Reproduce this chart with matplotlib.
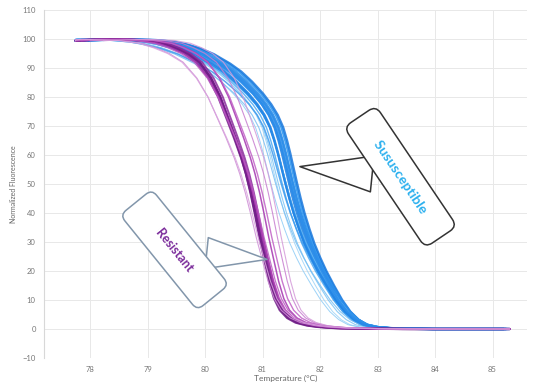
import numpy as np
import matplotlib
matplotlib.use('Agg')
import matplotlib.pyplot as plt

plt.rcParams['font.family'] = ['Lato', 'DejaVu Sans']

### Data ######################################################################

# typical resistant melt curve (dark core of the purple bundle)
temps_res = [77.7, 78.0, 78.5, 79.0, 79.3, 79.5, 79.7, 79.9, 80.1, 80.26, 80.4,
             80.52, 80.64, 80.72, 80.8, 80.88, 80.96, 81.05, 81.13, 81.22,
             81.32, 81.45, 81.6, 81.8, 82.0, 82.3, 82.8, 83.5, 85.3]
fluor_res = [99.4, 99.7, 99.9, 99.5, 98.5, 97.0, 95.0, 92.0, 86.5, 80.0, 72.5,
             66.0, 59.0, 53.5, 47.0, 39.5, 31.5, 23.5, 16.5, 10.5,
             6.5, 3.8, 2.2, 1.2, 0.7, 0.3, 0.1, 0.0, 0.0]

# typical susceptible melt curve (core of the blue bundle)
temps_sus = [77.7, 78.0, 78.5, 79.0, 79.3, 79.5, 79.75, 80.0, 80.3, 80.5, 80.7,
             80.9, 81.05, 81.17, 81.27, 81.34, 81.4, 81.46, 81.52, 81.59,
             81.66, 81.75, 81.84, 81.95, 82.06, 82.2, 82.35, 82.5, 82.65,
             82.8, 83.0, 83.3, 84.0, 85.3]
fluor_sus = [99.4, 99.7, 99.9, 99.6, 99.0, 98.2, 96.8, 94.8, 91.5, 88.8, 85.3,
             81.2, 77.5, 73.8, 69.5, 65.0, 60.5, 55.5, 50.5, 45.0,
             40.0, 34.5, 29.5, 24.5, 20.0, 15.0, 10.0, 6.0, 3.2,
             1.5, 0.6, 0.2, 0.0, 0.0]

# per-sample offset of each curve (deg C) and width of its melt transition
res_shift   = [0.0, 0.03, -0.02, 0.05, 0.02, 0.08, 0.15, 0.22, 0.0, 0.3, 0.35, 0.12, 0.05]
res_stretch = [1.0, 1.02, 0.98, 1.0, 1.05, 1.1, 1.0, 1.05, 1.2, 1.0, 0.95, 1.15, 1.25]
sus_shift   = [-0.06, -0.01, 0.02, -0.1, 0.0, -0.04, 0.04, -0.12, -0.21, -0.28, -0.34, -0.02, -0.18, -0.06, 0.02, -0.08, -0.03]
sus_stretch = [1.0, 0.98, 0.96, 1.03, 1.05, 1.1, 0.95, 1.08, 1.05, 1.0, 1.05, 1.12, 1.15, 1.18, 1.02, 1.06, 1.0]

# bottom of the melt where the curves of one group come together
res_pivot = 81.3
sus_pivot = 82.3

t_min, t_max = 77.75, 85.3

### Styles #####################################################################

res_colors = ['#6b1a80', '#7a2090', '#6f1d86', '#8a2a9c', '#75208a',
              '#b03ab5', '#a535b0', '#c060c6', '#cf8fd6', '#c77dd0', '#d49ad9',
              '#b85cc0', '#d9a3de']
res_lw = [1.6, 1.6, 1.6, 1.4, 1.5, 1.1, 1.1, 1.0, 0.8, 0.8, 0.8, 0.9, 0.8]
sus_colors = ['#1a7be0', '#1f86e8', '#2390ee', '#1c80e4', '#2a8eec', '#3a9cf0',
              '#1877dc', '#4aa8f2', '#7cc4f4', '#9cd3f7', '#8ccbf6', '#5fb4f3',
              '#78bff3', '#3d9bee', '#2d8fea', '#1f84e6', '#2b8ce9']
sus_lw = [1.8, 1.8, 1.8, 1.6, 1.6, 1.2, 1.6, 1.0, 0.8, 0.7, 0.7, 0.9, 0.8, 1.1, 1.3, 1.6, 1.6]

### Plot #######################################################################

fig = plt.figure(figsize=(5.34, 3.91), dpi=100)
ax = fig.add_axes([0.0824, 0.0844, 0.9045, 0.890])

def plot_group(temps, fluor, pivot, shifts, stretches, colors, widths):
    t = np.array(temps)
    for s, k, c, lw in zip(shifts, stretches, colors, widths):
        x = np.clip(pivot + (t - pivot) * k + s, t_min, t_max)
        ax.plot(x, fluor, color=c, lw=lw, alpha=0.85, solid_capstyle='round')

plot_group(temps_sus, fluor_sus, sus_pivot, sus_shift, sus_stretch, sus_colors, sus_lw)
plot_group(temps_res, fluor_res, res_pivot, res_shift, res_stretch, res_colors, res_lw)

ax.set_xlim(77.2, 85.6)
ax.set_ylim(-10, 110)
ax.set_xticks(np.arange(78, 86, 1))
ax.set_yticks(np.arange(-10, 111, 10))
ax.grid(True, color='#e8e8e8', lw=0.7)
ax.set_axisbelow(True)
for side in ['top', 'right', 'bottom']:
    ax.spines[side].set_visible(False)
ax.spines['left'].set_color('#d8d8d8')
ax.tick_params(length=0, labelsize=5.5, labelcolor='#777777', pad=6)
ax.set_xlabel('Temperature (°C)', fontsize=6, color='#666666', labelpad=1)
ax.set_ylabel('Normalized Fluorescence', fontsize=5, color='#666666', labelpad=4)

# callouts
ax.annotate('       Resistant       ', xy=(81.08, 24), xytext=(79.47, 27.3),
            fontsize=9, fontweight='bold', color='#7a2a9a', rotation=-51,
            ha='center', va='center', rotation_mode='anchor',
            bbox=dict(boxstyle='round,pad=1.15,rounding_size=0.6', fc='white',
                      ec='#8296ab', lw=1.1),
            arrowprops=dict(arrowstyle='wedge,tail_width=2.5', fc='white',
                            ec='#8296ab', lw=1.1, shrinkB=0))

ax.annotate('     Sususceptible     ', xy=(81.65, 56), xytext=(83.4, 52.5),
            fontsize=10, fontweight='bold', color='#2cb0ee', rotation=-56,
            ha='center', va='center', rotation_mode='anchor',
            bbox=dict(boxstyle='round,pad=0.95,rounding_size=0.6', fc='white',
                      ec='#333333', lw=1.1),
            arrowprops=dict(arrowstyle='wedge,tail_width=2.6', fc='white',
                            ec='#333333', lw=1.1, shrinkB=0))

fig.savefig('out.png', dpi=100)
